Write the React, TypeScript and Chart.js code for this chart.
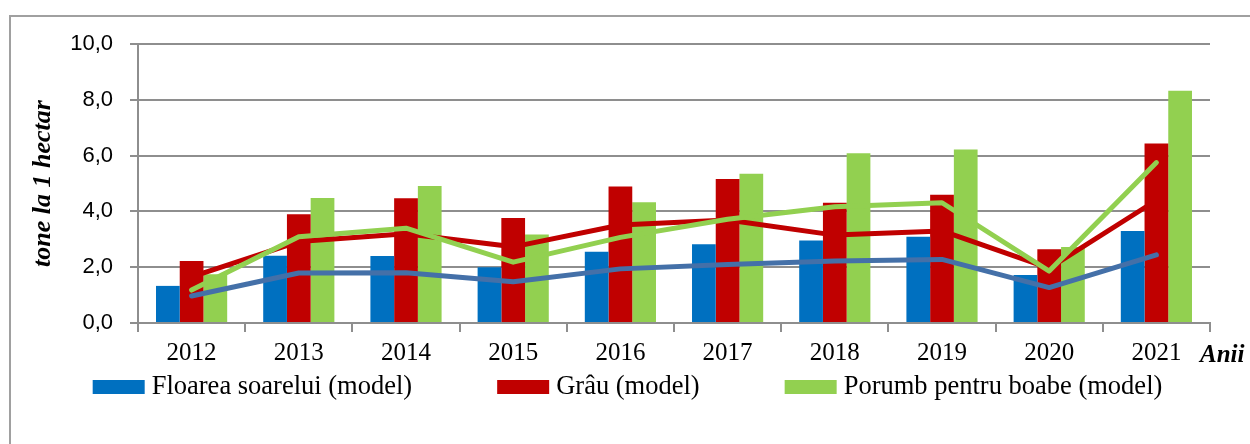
import React, { useEffect, useRef } from "react";
import { Chart, registerables } from "chart.js";

Chart.register(...registerables);

const years = ["2012", "2013", "2014", "2015", "2016", "2017", "2018", "2019", "2020", "2021"];
const floareaModel = [1.33, 2.41, 2.4, 2.0, 2.55, 2.82, 2.96, 3.09, 1.72, 3.3];
const grauModel = [2.22, 3.9, 4.47, 3.76, 4.89, 5.16, 4.31, 4.6, 2.64, 6.43];
const porumbModel = [1.75, 4.48, 4.91, 3.17, 4.33, 5.35, 6.08, 6.22, 2.72, 8.32];
const floareaActual = [0.97, 1.79, 1.8, 1.48, 1.94, 2.1, 2.22, 2.28, 1.27, 2.44];
const grauActual = [1.65, 2.92, 3.2, 2.73, 3.51, 3.69, 3.15, 3.3, 1.97, 4.4];
const porumbActual = [1.18, 3.09, 3.4, 2.18, 3.07, 3.72, 4.17, 4.31, 1.86, 5.75];
const yTicks = [0, 2, 4, 6, 8, 10];

const BLUE = "#0070C0";
const RED = "#C00000";
const GREEN = "#92D050";
const LINE_BLUE = "#4470A8";
const GRID = "#8E8E8E";

const decorPlugin = {
  id: "decor",
  beforeDraw(chart: any) {
    const ctx = chart.ctx;
    ctx.save();
    ctx.fillStyle = "#ffffff";
    ctx.fillRect(0, 0, chart.width, chart.height);
    ctx.strokeStyle = "#A0A0A0";
    ctx.lineWidth = 2;
    ctx.strokeRect(10, 16, chart.width + 40, chart.height + 40);
    ctx.restore();
  },
  afterDraw(chart: any) {
    const ctx = chart.ctx;
    ctx.save();
    ctx.fillStyle = "#000";
    ctx.font = "italic bold 25px 'Liberation Serif'";
    ctx.textBaseline = "alphabetic";
    ctx.textAlign = "left";
    ctx.fillText("Anii", 1200, 362);

    const items = chart.data.datasets.filter((d: any) => d.type === "bar");
    ctx.font = "26.5px 'Liberation Serif'";
    const boxW = 52;
    const boxH = 14;
    const gapBT = 7;
    const gapItems = 85;
    const widths = items.map((d: any) => boxW + gapBT + ctx.measureText(d.label).width);
    const total = widths.reduce((a: number, b: number) => a + b, 0) + gapItems * (items.length - 1);
    let x = 627.5 - total / 2;
    items.forEach((d: any, i: number) => {
      ctx.fillStyle = d.backgroundColor;
      ctx.fillRect(x, 380, boxW, boxH);
      ctx.fillStyle = "#000";
      ctx.fillText(d.label, x + boxW + gapBT, 394);
      x += widths[i] + gapItems;
    });
    ctx.restore();
  },
};

export default function App() {
  const ref = useRef<HTMLCanvasElement | null>(null);
  useEffect(() => {
    if (!ref.current) return;
    const lineCommon = { type: "line", borderWidth: 5, pointRadius: 0, tension: 0, borderCapStyle: "round", borderJoinStyle: "round" };
    const chart = new Chart(ref.current, {
      type: "bar",
      data: {
        labels: years,
        datasets: [
          { ...lineCommon, label: "Floarea soarelui", data: floareaActual, borderColor: LINE_BLUE, backgroundColor: LINE_BLUE, order: 2 } as any,
          { ...lineCommon, label: "Grâu", data: grauActual, borderColor: RED, backgroundColor: RED, order: 1 } as any,
          { ...lineCommon, label: "Porumb pentru boabe", data: porumbActual, borderColor: GREEN, backgroundColor: GREEN, order: 0 } as any,
          { type: "bar", label: "Floarea soarelui (model)", data: floareaModel, backgroundColor: BLUE, order: 5, barPercentage: 1, categoryPercentage: 0.664 } as any,
          { type: "bar", label: "Grâu (model)", data: grauModel, backgroundColor: RED, order: 5, barPercentage: 1, categoryPercentage: 0.664 } as any,
          { type: "bar", label: "Porumb pentru boabe (model)", data: porumbModel, backgroundColor: GREEN, order: 5, barPercentage: 1, categoryPercentage: 0.664 } as any,
        ],
      },
      options: {
        responsive: false,
        animation: false,
        layout: { padding: { left: 0, right: 40, top: 44, bottom: 0 } },
        plugins: {
          legend: { display: false },
          tooltip: { enabled: false },
          title: { display: false },
        },
        scales: {
          x: {
            offset: true,
            grid: { display: true, drawOnChartArea: false, drawTicks: true, tickLength: 9, color: GRID, lineWidth: 2, offset: true },
            border: { display: true, color: GRID, width: 2 },
            ticks: { color: "#000", font: { family: "'Liberation Serif'", size: 25 }, padding: 6, maxRotation: 0 },
            afterFit: (scale: any) => { scale.height = 121; },
          },
          y: {
            min: 0,
            max: 10,
            afterBuildTicks: (scale: any) => { scale.ticks = yTicks.map((v) => ({ value: v })); },
            grid: { color: GRID, lineWidth: 2, drawTicks: true, tickLength: 8 },
            border: { display: true, color: GRID, width: 2 },
            ticks: {
              color: "#000",
              font: { family: "'Liberation Sans'", size: 22 },
              padding: 17,
              callback: (v: any) => Number(v).toFixed(1).replace(".", ","),
            },
            title: {
              display: true,
              text: "tone la 1 hectar",
              color: "#000",
              font: { family: "'Liberation Serif'", size: 26, style: "italic", weight: "bold" },
              padding: { top: 28, bottom: 0 },
            },
            afterFit: (scale: any) => { scale.width = 138; },
          },
        },
      },
      plugins: [decorPlugin],
    });
    return () => chart.destroy();
  }, []);
  return (
    <div style={{ position: "fixed", left: 0, top: 0, width: 1250, height: 444, background: "#fff" }}>
      <canvas ref={ref} width={1250} height={444} style={{ display: "block" }} />
    </div>
  );
}
